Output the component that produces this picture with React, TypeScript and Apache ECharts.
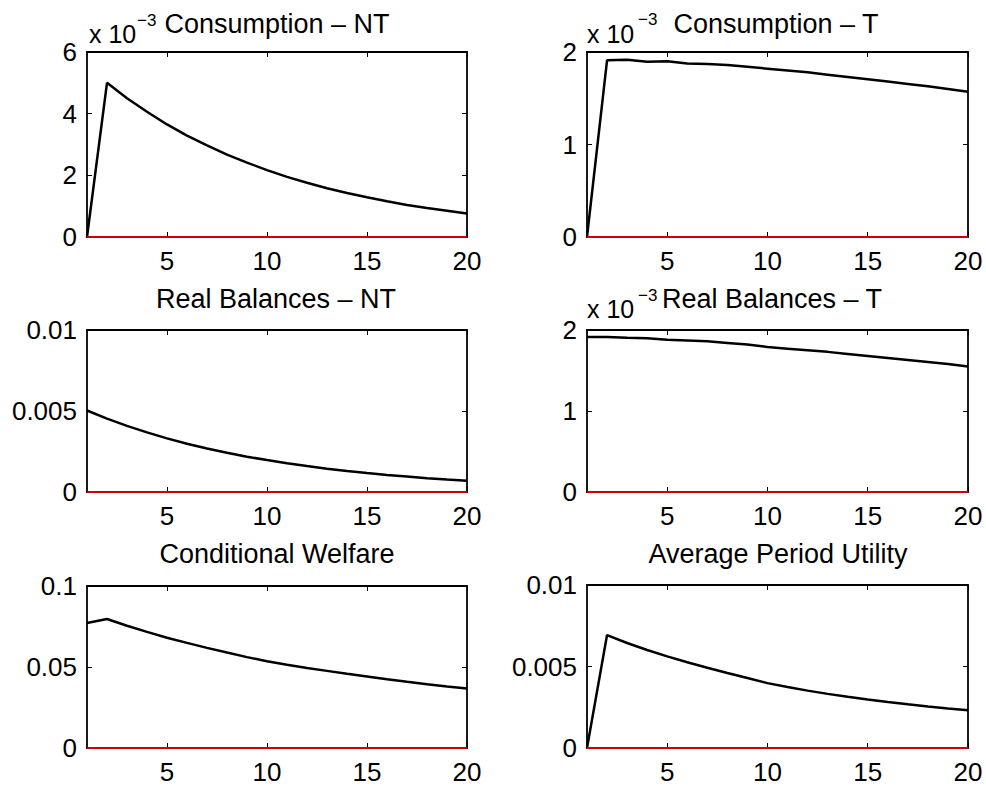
import React, { useEffect, useRef } from "react";
import * as echarts from "echarts";

// Periods on the horizontal axis
const periods = [1, 2, 3, 4, 5, 6, 7, 8, 9, 10, 11, 12, 13, 14, 15, 16, 17, 18, 19, 20];
const xTickValues = [5, 10, 15, 20];

// Consumption – NT (x 10^-3)
const consumptionNT = [0, 5.0, 4.5, 4.06, 3.65, 3.29, 2.97, 2.67, 2.41, 2.17, 1.95, 1.76, 1.58, 1.43, 1.29, 1.16, 1.04, 0.94, 0.85, 0.76];
// Consumption – T (x 10^-3)
const consumptionT = [0, 1.91, 1.915, 1.895, 1.9, 1.875, 1.87, 1.86, 1.84, 1.82, 1.8, 1.78, 1.755, 1.73, 1.705, 1.68, 1.655, 1.63, 1.6, 1.57];
// Real Balances – NT
const realBalancesNT = [0.00503, 0.00453, 0.00408, 0.00368, 0.00331, 0.00298, 0.00269, 0.00242, 0.00218, 0.00197, 0.00177, 0.0016, 0.00144, 0.0013, 0.00117, 0.00105, 0.00095, 0.00085, 0.00077, 0.0007];
// Real Balances – T (x 10^-3)
const realBalancesT = [1.915, 1.913, 1.905, 1.898, 1.88, 1.87, 1.86, 1.84, 1.82, 1.79, 1.77, 1.75, 1.73, 1.705, 1.68, 1.655, 1.63, 1.605, 1.58, 1.55];
// Conditional Welfare
const conditionalWelfare = [0.0772, 0.0796, 0.0755, 0.0717, 0.0681, 0.0649, 0.0618, 0.0589, 0.0561, 0.0535, 0.0514, 0.0494, 0.0476, 0.0458, 0.0442, 0.0425, 0.0409, 0.0394, 0.038, 0.0368];
// Average Period Utility
const avgPeriodUtility = [0, 0.00693, 0.00644, 0.00601, 0.00562, 0.00526, 0.00492, 0.0046, 0.00429, 0.00398, 0.00374, 0.00352, 0.00332, 0.00314, 0.00297, 0.00282, 0.00268, 0.00255, 0.00243, 0.00232];
// Zero reference line (red)
const zeroLine = [0, 0, 0, 0, 0, 0, 0, 0, 0, 0, 0, 0, 0, 0, 0, 0, 0, 0, 0, 0];

const titles = [
  "Consumption – NT",
  "Consumption – T",
  "Real Balances – NT",
  "Real Balances – T",
  "Conditional Welfare",
  "Average Period Utility",
];

const FONT = '"Liberation Sans", Arial, Helvetica, sans-serif';
const FS = 26;
const TITLE_FS = 27;

function buildOption() {
  const panels = [
    { data: consumptionNT, left: 87, top: 52, width: 380, height: 185, yMax: 6, yInterval: 2, titleX: 277, titleY: 24, exp: { x: 89, y: 33.5, sx: 137, sy: 20 } },
    { data: consumptionT, left: 587, top: 52, width: 381, height: 185, yMax: 2, yInterval: 1, titleX: 776, titleY: 24, exp: { x: 587, y: 33.5, sx: 638, sy: 19 } },
    { data: realBalancesNT, left: 87, top: 330, width: 380, height: 162, yMax: 0.01, yInterval: 0.005, titleX: 276, titleY: 299, exp: null },
    { data: realBalancesT, left: 587, top: 330, width: 381, height: 162, yMax: 2, yInterval: 1, titleX: 772, titleY: 299, exp: { x: 587, y: 308.5, sx: 638, sy: 295 } },
    { data: conditionalWelfare, left: 87, top: 586, width: 380, height: 162, yMax: 0.1, yInterval: 0.05, titleX: 277, titleY: 554, exp: null },
    { data: avgPeriodUtility, left: 587, top: 585, width: 381, height: 163, yMax: 0.01, yInterval: 0.005, titleX: 778, titleY: 554, exp: null },
  ];

  const axisLine = { show: true, onZero: false, lineStyle: { color: "#000", width: 1.8 } };
  const labelStyle = { color: "#000", fontSize: FS, fontFamily: FONT };

  const grid: any[] = [];
  const xAxis: any[] = [];
  const yAxis: any[] = [];
  const series: any[] = [];
  const graphic: any[] = [];

  panels.forEach((p, i) => {
    grid.push({ left: p.left, top: p.top, width: p.width, height: p.height, containLabel: false });
    xAxis.push({
      gridIndex: i, type: "value", min: 1, max: 20, position: "bottom",
      axisLine,
      axisTick: { show: true, inside: true, length: 5, customValues: xTickValues, lineStyle: { color: "#000", width: 1 } },
      axisLabel: { show: true, customValues: xTickValues, margin: 11, ...labelStyle },
      splitLine: { show: false },
    });
    xAxis.push({
      gridIndex: i, type: "value", min: 1, max: 20, position: "top",
      axisLine,
      axisTick: { show: true, inside: true, length: 5, customValues: xTickValues, lineStyle: { color: "#000", width: 1 } },
      axisLabel: { show: false },
      splitLine: { show: false },
    });
    yAxis.push({
      gridIndex: i, type: "value", min: 0, max: p.yMax, interval: p.yInterval, position: "left",
      axisLine,
      axisTick: { show: true, inside: true, length: 5, lineStyle: { color: "#000", width: 1 } },
      axisLabel: { show: true, margin: 10, ...labelStyle },
      splitLine: { show: false },
    });
    yAxis.push({
      gridIndex: i, type: "value", min: 0, max: p.yMax, interval: p.yInterval, position: "right",
      axisLine,
      axisTick: { show: true, inside: true, length: 5, lineStyle: { color: "#000", width: 1 } },
      axisLabel: { show: false },
      splitLine: { show: false },
    });
    series.push({
      type: "line", xAxisIndex: 2 * i, yAxisIndex: 2 * i,
      data: periods.map((t, k) => [t, p.data[k]]),
      showSymbol: false, symbol: "none",
      lineStyle: { color: "#000", width: 2.5 },
      z: 3,
    });
    series.push({
      type: "line", xAxisIndex: 2 * i, yAxisIndex: 2 * i,
      data: periods.map((t, k) => [t, zeroLine[k]]),
      showSymbol: false, symbol: "none",
      lineStyle: { color: "#cc0000", width: 2 },
      z: 4,
    });
    graphic.push({
      type: "text", x: p.titleX, y: p.titleY,
      style: { text: titles[i], fill: "#000", fontSize: TITLE_FS, fontFamily: FONT, textAlign: "center", textVerticalAlign: "middle" },
    });
    if (p.exp) {
      graphic.push({
        type: "text", x: p.exp.x, y: p.exp.y,
        style: { text: "x 10", fill: "#000", fontSize: 25, fontFamily: FONT, textAlign: "left", textVerticalAlign: "middle" },
      });
      graphic.push({
        type: "text", x: p.exp.sx, y: p.exp.sy,
        style: { text: "−3", fill: "#000", fontSize: 17, fontFamily: FONT, textAlign: "left", textVerticalAlign: "middle" },
      });
    }
  });

  return {
    animation: false,
    backgroundColor: "#fff",
    grid,
    xAxis,
    yAxis,
    series,
    graphic,
  };
}

export default function App() {
  const ref = useRef<HTMLDivElement>(null);
  useEffect(() => {
    if (!ref.current) return;
    const chart = echarts.init(ref.current, undefined, { renderer: "svg" });
    chart.setOption(buildOption() as any);
    return () => chart.dispose();
  }, []);
  return (
    <div
      ref={ref}
      style={{ position: "fixed", left: 0, top: 0, width: 986, height: 789, background: "#fff" }}
    />
  );
}
